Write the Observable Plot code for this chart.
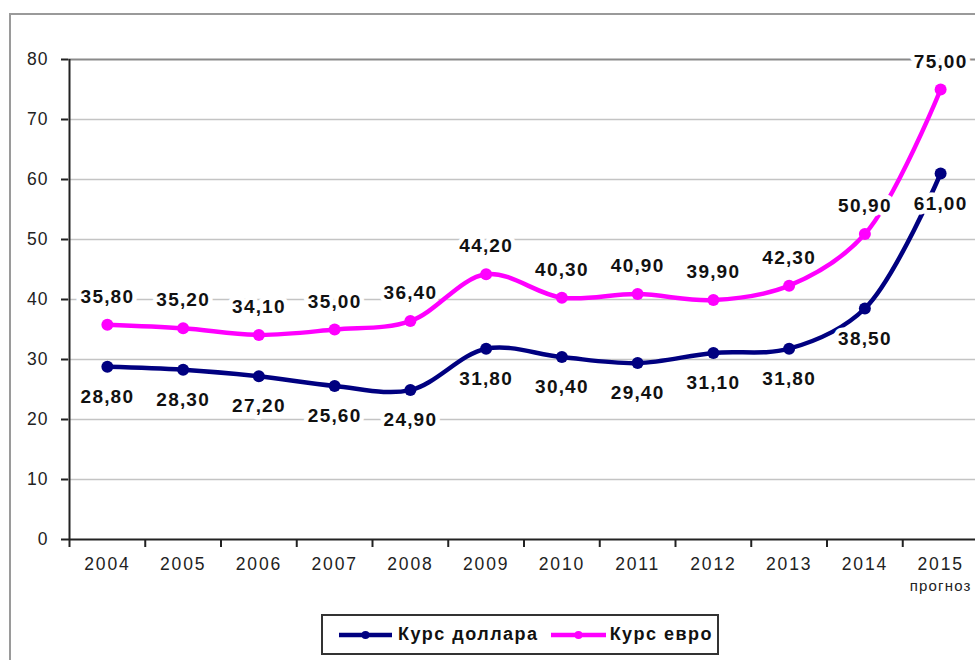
<!DOCTYPE html>
<html>
<head>
<meta charset="utf-8">
<script src="https://cdn.jsdelivr.net/npm/d3@7"></script>
<script src="https://cdn.jsdelivr.net/npm/@observablehq/plot@0.6"></script>
<style>
  body { margin: 0; background: white; font-family: "Liberation Sans", Arial, sans-serif; }
  #wrap { position: relative; width: 975px; height: 660px; overflow: hidden; }
  #frame { position: absolute; left: 9px; top: 13px; width: 1000px; height: 700px;
           border-top: 2px solid #9a9a9a; border-left: 2px solid #9a9a9a; z-index: 2; pointer-events: none; }
  #chart svg { background: transparent; }
  #legend { position: absolute; left: 321px; top: 614px; width: 398px; height: 41px;
            border: 2px solid #333; box-sizing: border-box; display: flex; align-items: center;
            font-weight: bold; font-size: 18px; letter-spacing: 1.5px; color: #111; }
  #legend .item { display: flex; align-items: center; }
  #legend svg { display: block; }
</style>
</head>
<body>
<div id="wrap">
  <div id="chart"></div>
  <div id="frame"></div>
  <div id="legend"></div>
</div>
<script>
const years = ["2004","2005","2006","2007","2008","2009","2010","2011","2012","2013","2014","2015"];
const usd = [28.8, 28.3, 27.2, 25.6, 24.9, 31.8, 30.4, 29.4, 31.1, 31.8, 38.5, 61.0];
const eur = [35.8, 35.2, 34.1, 35.0, 36.4, 44.2, 40.3, 40.9, 39.9, 42.3, 50.9, 75.0];
const notes = ["", "", "", "", "", "", "", "", "", "", "", "прогноз"];
const yTicks = [0, 10, 20, 30, 40, 50, 60, 70, 80];
const seriesNames = ["Курс доллара", "Курс евро"];
const colors = ["#000080", "#ff00ff"];

const data = years.map((y, i) => ({i, year: y, usd: usd[i], eur: eur[i], note: notes[i]}));
const fmt = v => v.toFixed(2).replace(".", ",");
const font = "'Liberation Sans', Arial, sans-serif";

const plot = Plot.plot({
  width: 975,
  height: 610,
  marginTop: 59,
  marginBottom: 71,
  marginLeft: 68,
  marginRight: 0,
  style: {fontFamily: font, background: "transparent", color: "#222"},
  x: {domain: [-0.5, 11.5], range: [69, 978]},
  y: {domain: [0, 80]},
  marks: [
    Plot.gridY(yTicks.filter(t => t > 0 && t < 80), {stroke: "#c4c4c4", strokeOpacity: 1, strokeWidth: 1.5}),
    Plot.ruleY([80], {stroke: "#8a8a8a", strokeWidth: 2}),
    Plot.axisY({ticks: yTicks, tickSize: 7, tickPadding: 13, fontSize: 17.5, stroke: "#222", strokeWidth: 2, label: null}),
    Plot.axisX({ticks: d3.range(-0.5, 11, 1), tickSize: 8, tickFormat: () => "", stroke: "#222", strokeWidth: 2, label: null}),
    Plot.axisX({ticks: d3.range(0, 12), tickSize: 0, tickPadding: 18, fontSize: 17.5, tickFormat: i => years[i], label: null}),
    Plot.text(data.filter(d => d.note), {x: "i", y: 0, text: "note", dy: 47, fontSize: 15, fill: "#222"}),
    Plot.ruleX([-0.5], {stroke: "#222", strokeWidth: 2}),
    Plot.ruleY([0], {stroke: "#222", strokeWidth: 2}),
    Plot.line(data, {x: "i", y: "eur", stroke: colors[1], strokeWidth: 4.5, curve: "catmull-rom"}),
    Plot.line(data, {x: "i", y: "usd", stroke: colors[0], strokeWidth: 4.5, curve: "catmull-rom"}),
    Plot.dot(data, {x: "i", y: "eur", r: 6, fill: colors[1]}),
    Plot.dot(data, {x: "i", y: "usd", r: 6, fill: colors[0]}),
    Plot.text(data, {x: "i", y: "eur", text: d => fmt(d.eur), dy: -28, fontSize: 19, fontWeight: "bold",
      fill: "#111", stroke: "white", strokeWidth: 9}),
    Plot.text(data, {x: "i", y: "usd", text: d => fmt(d.usd), dy: 30, fontSize: 19, fontWeight: "bold",
      fill: "#111", stroke: "white", strokeWidth: 9})
  ]
});
d3.select(plot).selectAll("g[aria-label='text'] text").attr("letter-spacing", "1.2px");
d3.select(plot).selectAll("g[aria-label='x-axis tick label'] text").attr("letter-spacing", "1.8px");
d3.select(plot).selectAll("g[aria-label='y-axis tick label'] text").attr("letter-spacing", "1px");
document.getElementById("chart").appendChild(plot);

// legend
const legend = d3.select("#legend");
const widths = [[16, 55, 4], [12, 57, 2]];
seriesNames.forEach((name, k) => {
  const item = legend.append("div").attr("class", "item").style("margin-left", widths[k][0] + "px");
  const s = item.append("svg").attr("width", widths[k][1]).attr("height", 12);
  s.append("line").attr("x1", 0).attr("x2", widths[k][1] - 2).attr("y1", 6).attr("y2", 6)
    .attr("stroke", colors[k]).attr("stroke-width", 4.5);
  s.append("circle").attr("cx", (widths[k][1] - 2) / 2).attr("cy", 6).attr("r", 4).attr("fill", colors[k]);
  item.append("span").style("margin-left", widths[k][2] + "px").text(name);
});
</script>
</body>
</html>
